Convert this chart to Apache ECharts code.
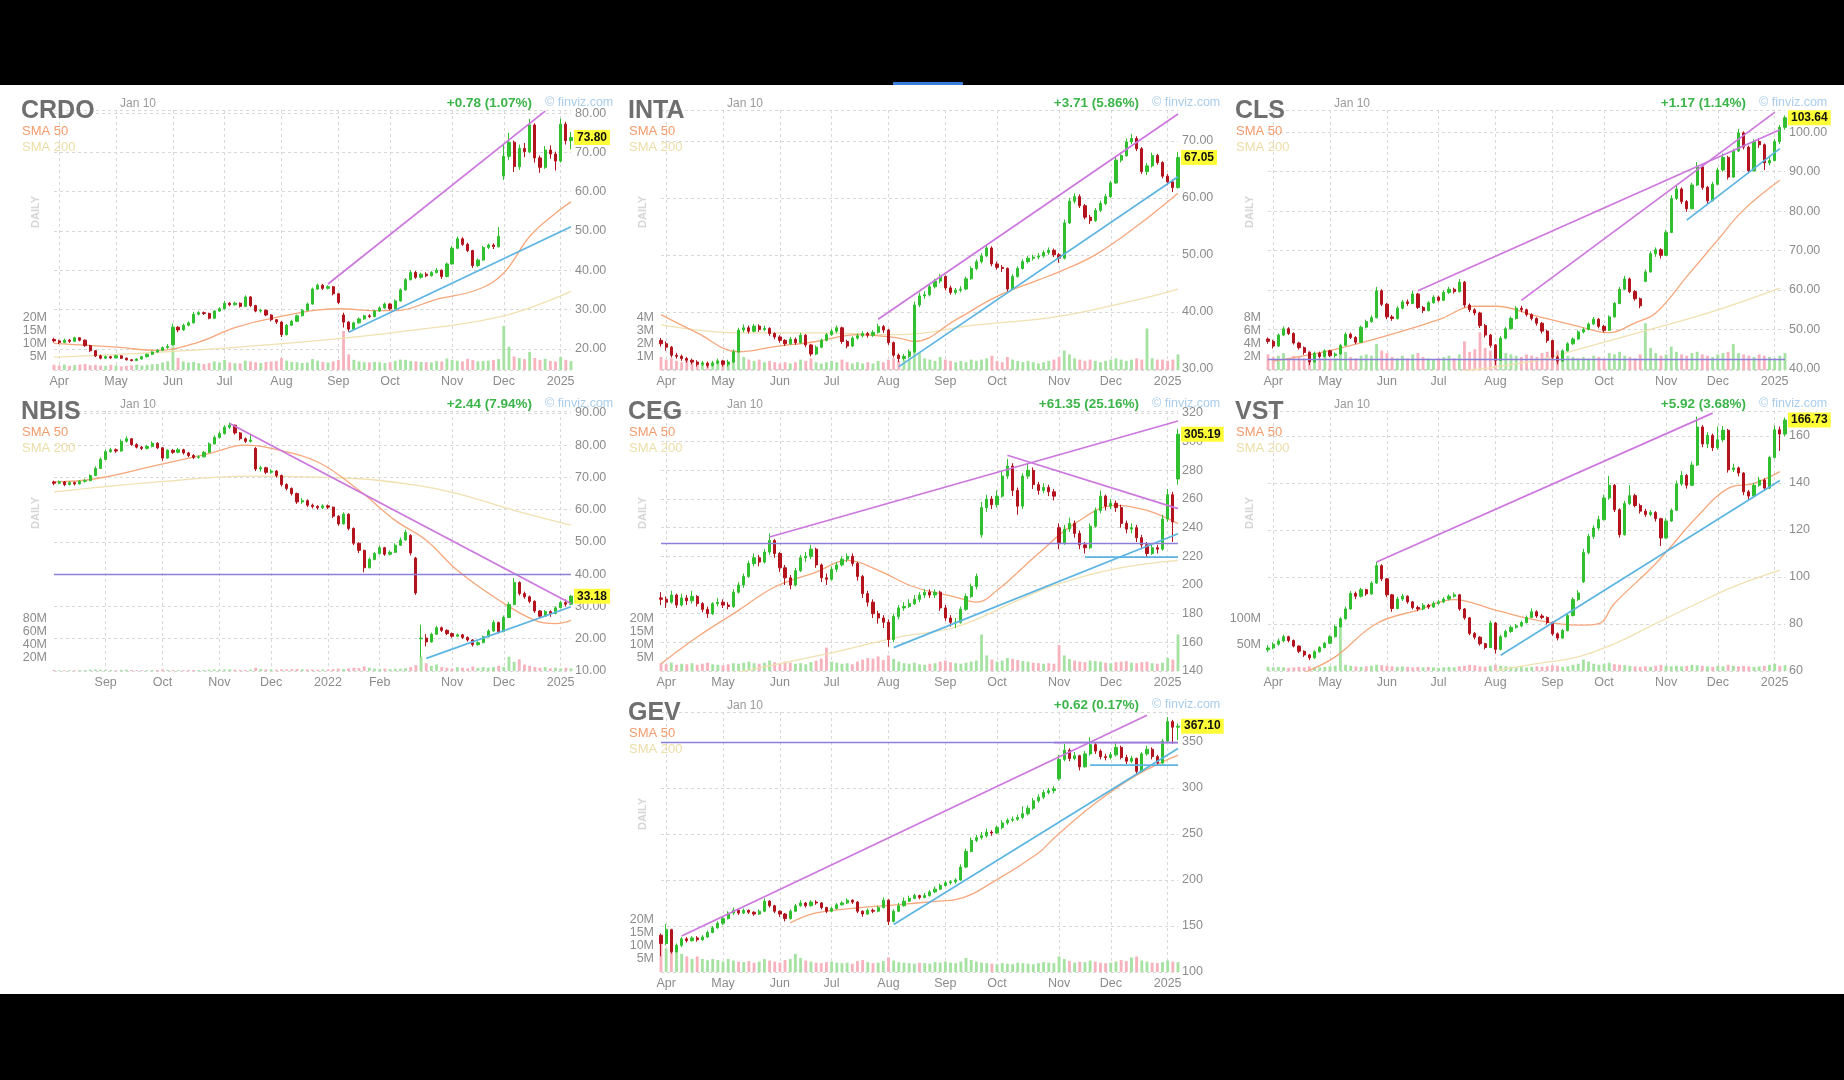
<!DOCTYPE html>
<html>
<head>
<meta charset="utf-8">
<script src="https://cdn.jsdelivr.net/npm/echarts@6/dist/echarts.min.js"></script>
<style>
html,body{margin:0;padding:0;background:#000;width:1844px;height:1080px;overflow:hidden;}
#paper{position:absolute;left:0;top:85px;width:1844px;height:909px;background:#fff;}
#tab{position:absolute;left:893px;top:82px;width:70px;height:3px;background:#3b7ddd;}
#chart{position:absolute;left:0;top:0;width:1844px;height:1080px;}
</style>
</head>
<body>
<div id="paper"></div>
<div id="tab"></div>
<div id="chart"></div>
<script>
// ---------- axis ticks ----------
const monthTicks = [1,12,23,33,44,55,65,77,87,98];
const monthNames = ['Apr','May','Jun','Jul','Aug','Sep','Oct','Nov','Dec','2025'];
const nbisTicks = [10,21,32,42,53,63,77,87,98];
const nbisNames = ['Sep','Oct','Nov','Dec','2022','Feb','Nov','Dec','2025'];

const tickers = ['CRDO','INTA','CLS','NBIS','CEG','VST','GEV'];
const changes = ['+0.78 (1.07%)','+3.71 (5.86%)','+1.17 (1.14%)','+2.44 (7.94%)','+61.35 (25.16%)','+5.92 (3.68%)','+0.62 (0.17%)'];

// ---------- CRDO [open, close, low, high] ----------
const crdoCandles = [[22.4,22.0,21.6,22.8],[22.0,21.6,21.2,22.3],[21.6,22.2,21.4,22.6],[22.2,21.9,21.5,22.5],[21.9,22.8,21.7,23.1],[22.8,22.2,21.9,23.0],[22.2,20.8,20.5,22.4],[20.8,19.5,19.2,21.0],[19.5,18.2,17.9,19.7],[18.2,17.6,17.3,18.5],
[17.6,18.0,17.4,18.3],[18.0,17.7,17.4,18.2],[17.7,18.2,17.5,18.5],[18.2,17.6,17.4,18.3],[17.6,17.2,17.0,17.8],[17.2,17.0,16.8,17.4],[17.0,17.4,16.9,17.6],[17.4,18.0,17.2,18.2],[18.0,18.6,17.8,18.8],[18.6,19.2,18.4,19.4],
[19.2,19.6,19.0,19.9],[19.6,20.3,19.4,20.6],[20.3,20.6,20.0,21.2],[21.0,25.5,20.8,26.4],[25.5,24.8,24.2,25.8],[24.8,26.0,24.6,26.4],[26.0,26.6,25.7,27.0],[26.6,28.8,26.4,29.4],[28.8,29.2,28.5,29.6],[29.2,29.0,28.6,29.5],
[29.0,27.8,27.5,29.2],[27.8,29.6,27.6,29.9],[29.6,30.2,29.4,30.6],[30.2,31.6,30.0,32.2],[31.6,31.2,30.8,31.9],[31.2,31.6,31.0,32.0],[31.6,30.8,30.5,31.8],[30.8,33.2,30.6,33.6],[33.2,31.0,30.6,33.4],[31.0,29.6,29.3,31.2],
[29.6,29.8,29.2,30.2],[29.8,28.6,28.3,30.0],[28.6,27.4,27.0,28.8],[27.4,26.8,26.3,27.6],[26.8,23.6,23.0,27.0],[23.6,26.0,23.4,26.3],[26.0,27.0,25.8,27.4],[27.0,28.4,26.8,28.7],[28.4,29.8,28.2,30.1],[29.8,31.4,29.6,31.8],
[31.4,35.2,31.2,35.6],[35.2,36.2,35.0,36.6],[36.2,35.4,35.0,36.5],[35.4,35.8,35.1,36.2],[35.8,34.0,33.6,36.0],[34.0,31.8,31.4,34.2],[28.6,26.8,25.4,29.2],[26.8,25.0,24.3,27.0],[25.0,26.6,24.8,26.9],[26.6,27.6,26.4,28.0],
[27.6,28.4,27.4,28.7],[28.4,28.2,27.8,28.8],[28.2,29.6,28.0,29.9],[29.6,30.4,29.4,30.8],[30.4,31.4,30.2,31.8],[31.4,30.2,29.8,31.6],[30.2,32.2,30.0,32.6],[32.2,35.0,32.0,35.4],[35.0,37.6,34.8,38.0],[37.6,39.4,37.4,40.0],
[39.4,38.2,37.8,39.8],[38.2,39.0,37.9,39.4],[39.0,38.6,38.2,39.5],[38.6,39.4,38.4,39.8],[39.4,40.0,39.2,40.6],[40.0,38.4,37.8,40.2],[38.4,41.6,38.2,42.0],[41.6,45.6,41.4,46.2],[45.6,48.0,45.4,48.6],[48.0,46.6,46.2,48.4],
[46.6,45.0,44.6,47.0],[45.0,41.2,40.6,45.2],[41.2,42.6,40.8,43.0],[42.6,45.8,42.4,46.2],[45.8,46.4,45.4,46.8],[46.4,46.0,45.4,46.9],[46.0,48.6,45.8,51.0],[64.0,69.0,63.0,72.0],[69.0,72.6,68.0,75.0],[72.6,66.4,65.0,73.0],
[66.4,71.0,65.6,72.0],[71.0,70.2,68.8,72.4],[70.2,77.0,69.8,78.6],[77.0,68.6,67.4,77.4],[68.6,66.2,64.8,69.2],[66.2,70.6,65.8,71.6],[70.6,69.6,68.4,71.8],[69.6,67.8,65.4,70.2],[67.8,77.2,67.4,78.6],[77.2,73.0,72.0,77.8],
[73.0,73.8,70.8,75.2]];
const crdoVolume = [2.0,1.7,2.1,1.6,1.9,2.1,2.3,1.8,2.0,1.7,1.6,2.0,1.7,1.4,1.6,1.8,2.1,1.7,2.0,2.2,2.3,2.9,3.3,9.0,4.6,3.3,2.9,3.1,2.6,2.3,2.7,3.3,2.9,3.9,2.9,2.6,2.5,3.6,3.3,3.0,2.7,3.1,3.3,3.4,4.6,3.6,3.1,3.0,2.7,2.9,4.2,3.6,3.1,2.9,3.3,3.9,15.0,6.0,3.9,3.3,3.0,2.9,3.1,3.0,2.7,3.0,3.5,4.0,3.9,3.4,3.3,3.1,3.0,2.9,3.4,3.3,4.4,3.9,3.6,3.3,4.3,3.8,3.3,3.4,3.6,3.9,4.2,17.0,9.0,5.2,4.6,4.2,7.0,4.6,3.9,4.3,3.5,3.3,5.0,3.9,3.4];
const crdoSma50 = [[0,21.4],[12,20.4],[20,19.6],[28,21.7],[35,25.4],[43,28.0],[55,30.2],[62,29.7],[66,29.7],[74,32.6],[82,35.1],[87,39.3],[92,48.6],[97,54.5],[100,57.4]];
const crdoSma200 = [[0,17.9],[20,19.1],[43,21.2],[66,24.2],[87,28.4],[100,34.6]];
const crdoPurple = [[[53,36.5],[95,80.5]]];
const crdoBlue = [[[57,24.2],[100,51.1]]];
const crdoLevels = [];

// ---------- INTA ----------
const intaCandles = [[35.0,34.4,33.9,35.4],[34.4,33.8,33.2,34.8],[33.8,32.4,32.0,34.0],[32.4,32.2,31.8,32.8],[32.2,31.8,31.4,32.5],[31.8,31.5,31.1,32.1],[31.5,31.2,30.8,31.8],[31.2,30.8,30.4,31.5],[30.8,31.0,30.5,31.4],[31.0,30.6,30.2,31.3],
[30.6,31.0,30.4,31.4],[31.0,31.4,30.8,31.8],[31.4,30.8,30.4,31.6],[30.8,31.2,30.4,31.6],[31.2,33.0,31.0,33.4],[33.0,36.8,32.8,37.2],[36.8,37.2,36.4,37.8],[37.2,36.6,36.2,37.6],[36.6,37.5,36.4,37.9],[37.5,36.9,36.5,37.8],
[36.9,37.1,36.6,37.6],[37.1,36.2,35.8,37.3],[36.2,35.6,35.2,36.4],[35.6,35.0,34.6,35.9],[35.0,34.4,34.0,35.2],[34.4,35.2,34.2,35.6],[35.2,34.6,34.2,35.5],[34.6,35.9,34.4,36.3],[35.9,34.2,33.8,36.1],[34.2,32.6,32.2,34.4],
[32.6,33.8,32.4,34.1],[33.8,35.0,33.6,35.3],[35.0,36.0,34.8,36.3],[36.0,36.6,35.8,37.0],[36.6,37.2,36.3,37.6],[37.2,34.8,34.4,37.4],[34.8,34.0,33.6,35.1],[34.0,35.4,33.8,35.7],[35.4,35.8,35.1,36.2],[35.8,36.2,35.5,36.6],
[36.2,35.9,35.5,36.5],[35.9,36.4,35.6,36.8],[36.4,37.4,36.2,37.9],[37.4,36.8,36.3,37.7],[36.8,34.6,34.2,37.0],[34.6,32.4,32.0,34.8],[32.4,31.8,31.2,32.7],[31.8,32.2,31.5,32.6],[32.2,33.0,31.9,33.4],[33.0,41.2,32.8,41.8],
[41.2,42.8,40.8,43.4],[42.8,43.0,42.3,43.6],[43.0,44.4,42.7,44.8],[44.4,45.4,44.1,45.8],[45.4,46.2,45.0,46.6],[46.2,44.2,43.8,46.4],[44.2,43.4,43.0,44.6],[43.4,43.8,43.0,44.2],[43.8,44.0,43.4,44.5],[44.0,45.8,43.8,46.2],
[45.8,47.6,45.6,48.0],[47.6,48.8,47.3,49.2],[48.8,49.8,48.5,50.3],[49.8,51.2,49.6,51.8],[51.2,48.4,48.0,51.5],[48.4,47.8,47.4,48.8],[47.8,47.6,47.0,48.2],[47.6,44.0,43.6,47.8],[44.0,46.2,43.8,46.6],[46.2,47.6,46.0,48.0],
[47.6,48.8,47.4,49.2],[48.8,49.4,48.5,49.8],[49.4,49.6,49.0,50.0],[49.6,49.8,49.2,50.3],[49.8,50.4,49.5,50.8],[50.4,50.8,50.0,51.3],[50.8,50.0,49.6,51.1],[50.0,49.4,48.6,50.3],[49.4,55.6,49.2,56.2],[55.6,59.4,55.4,60.0],
[59.4,60.2,59.0,60.8],[60.2,58.6,58.2,60.6],[58.6,56.6,56.2,58.9],[56.6,56.0,55.4,57.0],[56.0,57.8,55.8,58.2],[57.8,59.0,57.5,59.5],[59.0,60.2,58.7,60.7],[60.2,62.6,60.0,63.0],[62.6,66.6,62.4,67.2],[66.6,67.4,66.2,68.0],
[67.4,69.8,67.2,70.4],[69.8,70.4,69.4,71.2],[70.4,68.6,68.2,70.8],[68.6,64.6,64.2,68.9],[64.6,65.6,64.0,66.1],[65.6,67.4,65.3,67.9],[67.4,66.2,65.8,67.7],[66.2,63.8,63.4,66.4],[63.8,62.8,62.2,64.2],[62.8,61.8,61.0,63.2],
[61.8,67.05,61.6,68.0]];
const intaVolume = [1.0,0.8,0.9,0.7,0.6,0.7,0.6,0.5,0.6,0.5,0.6,0.7,0.5,0.6,0.9,1.4,1.0,0.8,0.7,0.8,0.6,0.7,0.6,0.5,0.6,0.5,0.6,0.8,0.7,0.9,0.6,0.5,0.6,0.7,0.6,0.8,0.6,0.5,0.6,0.5,0.6,0.5,0.7,0.6,0.8,0.9,0.7,0.8,0.9,2.0,1.3,0.9,0.8,0.7,1.0,0.8,0.7,0.6,0.7,0.6,0.8,0.7,0.8,0.9,1.1,0.7,0.6,1.0,0.8,0.7,0.6,0.7,0.6,0.5,0.6,0.7,0.8,1.0,1.5,1.2,0.9,0.8,0.7,0.8,0.7,0.6,0.7,0.8,0.9,0.8,0.7,0.8,0.9,0.8,3.2,0.9,0.8,0.8,0.7,0.8,1.2];
const intaSma50 = [[0,39.5],[7,36.3],[15,33.0],[22,33.9],[30,34.8],[38,36.0],[46,35.4],[49,34.8],[57,38.6],[65,42.7],[73,45.6],[77,47.0],[84,50.0],[92,55.0],[100,60.8]];
const intaSma200 = [[0,37.7],[15,36.3],[30,36.3],[46,36.0],[61,37.7],[77,39.2],[92,42.1],[100,44.0]];
const intaPurple = [[[42,38.7],[100,74.7]]];
const intaBlue = [[[46,30.4],[100,63.7]]];
const intaLevels = [];

// ---------- CLS ----------
const clsCandles = [[47.6,47.0,46.4,48.0],[47.0,45.8,45.2,47.4],[45.8,48.6,45.6,49.0],[48.6,50.2,48.3,50.8],[50.2,49.0,48.6,50.6],[49.0,46.6,46.2,49.3],[46.6,45.4,44.9,46.9],[45.4,44.2,43.6,45.7],[44.2,41.8,41.0,44.4],[41.8,44.0,41.6,44.4],
[44.0,43.2,42.7,44.4],[43.2,44.6,42.9,45.0],[44.6,43.4,43.0,44.9],[43.4,43.8,42.9,44.2],[43.8,46.0,43.6,46.4],[46.0,48.8,45.8,49.3],[48.8,48.0,47.6,49.2],[48.0,46.8,46.3,48.3],[46.8,50.6,46.6,51.0],[50.6,52.0,50.3,52.5],
[52.0,53.0,51.7,53.6],[53.0,59.8,52.8,60.8],[59.8,56.4,55.9,60.2],[56.4,53.2,52.6,56.7],[53.2,52.8,52.2,53.7],[52.8,55.4,52.5,55.9],[55.4,57.0,55.1,57.5],[57.0,56.6,56.0,57.6],[56.6,59.0,56.4,59.8],[59.0,55.6,55.2,59.3],
[55.6,54.8,54.2,56.0],[54.8,56.8,54.6,57.2],[56.8,58.2,56.5,58.7],[58.2,57.4,57.0,58.6],[57.4,59.4,57.2,59.9],[59.4,60.2,59.0,60.8],[60.2,59.6,59.1,60.6],[59.6,62.0,59.4,62.8],[62.0,56.2,55.6,62.3],[56.2,55.0,54.4,56.6],
[55.0,54.2,53.6,55.4],[54.2,51.0,50.4,54.5],[51.0,48.6,48.0,51.4],[48.6,46.0,45.4,48.9],[46.0,42.2,41.0,46.3],[42.2,47.8,42.0,48.3],[47.8,50.2,47.5,50.7],[50.2,52.8,50.0,53.3],[52.8,55.4,52.5,55.9],[55.4,55.0,54.4,56.0],
[55.0,53.8,53.3,55.3],[53.8,52.8,52.3,54.1],[52.8,51.6,51.0,53.1],[51.6,49.6,49.0,51.9],[49.6,47.2,46.6,49.9],[47.2,43.0,42.2,47.4],[43.0,42.0,41.2,43.5],[42.0,44.6,41.8,45.0],[44.6,46.4,44.4,46.8],[46.4,47.6,46.1,48.0],
[47.6,49.4,47.4,49.8],[49.4,50.0,49.0,50.5],[50.0,51.4,49.8,51.8],[51.4,52.6,51.1,53.2],[52.6,50.8,50.3,52.9],[50.8,49.8,49.3,51.2],[49.8,53.2,49.6,53.6],[53.2,56.6,53.0,57.0],[56.6,60.2,56.4,60.8],[60.2,62.8,60.0,63.6],
[62.8,59.6,59.2,63.2],[59.6,57.8,57.3,60.0],[57.8,56.0,55.4,58.1],[62.2,64.6,62.0,65.2],[64.6,69.2,64.4,69.8],[69.2,70.2,68.4,70.8],[70.2,68.8,68.0,70.6],[68.8,74.6,68.6,75.2],[74.6,83.2,74.4,84.0],[83.2,85.6,82.8,86.6],
[85.6,82.4,81.8,86.0],[82.4,80.6,79.8,82.8],[80.6,86.6,80.4,87.2],[86.6,91.2,86.3,92.4],[91.2,86.0,85.4,91.6],[86.0,82.6,81.6,86.4],[82.6,86.8,82.4,87.4],[86.8,90.4,86.5,91.0],[90.4,93.6,90.0,94.6],[93.6,88.6,88.0,94.0],
[88.6,95.2,88.4,95.8],[95.2,99.8,95.0,100.8],[99.8,96.2,95.6,100.2],[96.2,90.2,89.6,96.6],[90.2,97.6,90.0,98.2],[97.6,96.8,96.0,98.4],[96.8,92.2,90.4,97.1],[92.2,92.8,91.6,94.0],[92.8,97.6,92.6,98.2],[97.6,101.2,97.0,101.8],
[101.2,103.64,100.6,104.2]];
const clsVolume = [2.4,2.0,2.2,2.6,1.8,2.2,2.0,1.8,3.0,2.2,1.8,2.0,1.6,1.8,2.4,2.8,2.0,1.8,2.2,2.4,2.2,4.0,3.0,2.6,2.0,1.8,2.2,1.8,2.4,2.6,2.0,1.8,1.6,1.8,2.0,2.2,1.8,2.4,4.4,2.8,3.2,5.8,3.4,3.0,4.0,3.2,2.6,2.4,2.2,2.0,2.4,2.2,2.0,2.6,2.8,3.6,3.0,2.4,2.2,2.0,1.8,2.0,1.8,2.2,2.0,1.8,2.6,2.4,2.8,2.2,2.0,1.8,2.4,7.2,3.4,2.6,2.2,2.4,3.6,2.8,2.4,2.2,2.6,2.8,2.4,2.2,2.0,2.4,2.6,2.8,4.0,2.6,2.4,2.2,2.0,2.4,2.2,2.0,1.8,2.2,2.6];
const clsSma50 = [[1,42.0],[13,45.0],[25,49.2],[33,52.5],[40,55.9],[44,55.9],[52,53.4],[60,50.8],[66,49.2],[71,51.7],[75,54.2],[81,63.4],[87,72.7],[92,80.3],[99,87.8]];
const clsSma200 = [[0,36.5],[30,38.5],[52,42.2],[60,45.0],[75,50.4],[87,55.0],[99,60.5]];
const clsPurple = [[[29,59.8],[99,100.6]],[[49,57.4],[98,105.0]]];
const clsBlue = [[[81,77.7],[99,95.8]]];
const clsLevels = [42.4];

// ---------- NBIS ----------
const nbisCandles = [[68.6,68.2,67.6,69.0],[68.2,68.6,67.9,69.1],[68.6,67.8,67.3,68.9],[67.8,68.4,67.5,68.8],[68.4,68.0,67.5,68.7],[68.0,68.8,67.8,69.2],[68.8,69.0,68.4,69.6],[69.0,70.6,68.8,71.0],[70.6,72.8,70.4,73.4],[72.8,75.6,72.6,76.2],
[75.6,78.0,75.4,78.6],[78.0,78.6,77.6,79.2],[78.6,78.2,77.6,79.0],[78.2,81.2,78.0,81.8],[81.2,82.0,80.8,82.8],[82.0,80.2,79.8,82.2],[80.2,79.4,79.0,80.6],[79.4,79.0,78.5,79.8],[79.0,79.6,78.7,80.1],[79.6,80.6,79.3,81.2],
[80.6,79.2,78.8,80.9],[79.2,76.0,75.2,79.4],[76.0,78.4,75.8,78.8],[78.4,77.8,77.3,78.8],[77.8,78.6,77.5,79.2],[78.6,77.6,77.1,78.9],[77.6,76.8,76.3,77.9],[76.8,76.2,75.7,77.2],[76.2,76.4,75.8,76.9],[76.4,77.8,76.2,78.2],
[77.8,80.4,77.6,80.9],[80.4,82.4,80.2,83.0],[82.4,83.6,82.0,84.2],[83.6,85.6,83.3,86.2],[85.6,86.2,85.0,87.0],[86.2,83.8,83.3,86.4],[83.8,82.0,81.5,84.1],[82.0,81.2,80.7,82.4],[81.2,81.6,80.8,83.2],[79.0,72.6,72.0,79.4],
[72.6,73.0,71.8,73.6],[73.0,71.6,71.0,73.3],[71.6,72.0,71.2,72.6],[72.0,70.6,70.0,72.3],[70.6,67.8,67.2,70.9],[67.8,66.6,66.0,68.2],[66.6,65.0,64.4,66.9],[65.0,62.4,61.8,65.3],[62.4,62.8,61.8,63.6],[62.8,61.4,60.8,63.2],
[61.4,61.0,60.4,61.9],[61.0,60.6,60.0,61.4],[60.6,61.2,60.2,61.7],[61.2,60.8,60.2,61.6],[60.8,58.0,57.4,61.0],[58.0,55.6,55.0,58.3],[55.6,58.6,55.4,59.2],[58.6,54.2,53.6,58.9],[54.2,49.6,49.0,54.5],[49.6,47.4,46.6,49.9],
[47.4,42.0,40.6,47.6],[42.0,44.6,41.8,45.2],[44.6,46.4,44.3,46.9],[46.4,48.2,46.1,48.8],[48.2,46.2,45.7,48.5],[46.2,46.8,45.8,47.4],[46.8,49.0,46.6,49.6],[49.0,50.6,48.8,51.4],[50.6,53.0,50.4,53.8],[52.0,46.6,45.8,52.4],
[45.0,34.2,33.6,45.4],[20.0,20.2,14.2,24.4],[20.2,19.0,17.6,21.4],[19.0,21.4,18.8,21.9],[21.4,23.4,21.2,24.0],[23.4,22.6,22.1,23.8],[22.6,21.6,21.1,22.9],[21.6,20.8,20.3,21.9],[20.8,21.2,20.5,21.6],[21.2,20.4,19.9,21.5],
[20.4,19.6,19.1,20.7],[19.6,18.2,17.6,19.9],[18.2,18.8,17.8,19.2],[18.8,20.6,18.6,21.0],[20.6,22.4,20.4,22.9],[22.4,25.0,22.2,25.8],[25.0,22.2,21.6,25.3],[22.2,26.6,22.0,27.2],[26.6,30.6,26.4,31.4],[30.6,37.4,30.4,38.8],
[37.4,34.0,33.4,37.8],[34.0,33.0,32.4,34.6],[33.0,31.6,31.0,33.4],[31.6,28.6,28.0,31.9],[28.6,27.0,26.4,28.9],[27.0,28.4,26.8,28.9],[28.4,27.8,26.8,28.8],[27.8,29.6,27.6,30.0],[29.6,31.2,29.4,31.8],[31.2,30.7,30.0,32.2],
[30.7,33.18,30.5,33.6]];
const nbisVolume = [1.5,1.2,1.0,1.2,1.1,1.3,1.4,2.0,2.2,1.8,1.6,1.4,1.2,1.8,2.0,1.6,1.4,1.2,1.3,1.5,1.4,2.4,1.6,1.4,1.3,1.2,1.4,1.5,1.3,1.6,2.0,2.2,1.8,2.4,2.6,2.0,1.8,1.6,2.2,5.0,3.0,2.4,2.2,2.0,2.6,2.4,2.8,3.2,2.6,2.4,2.2,2.0,2.4,2.2,3.0,3.6,3.0,4.0,5.0,4.4,7.0,5.0,3.6,3.2,3.8,3.0,3.4,3.6,4.2,6.0,9.0,
22.0,12.0,8.0,10.0,6.0,5.0,4.0,6.0,5.0,4.0,7.0,5.0,6.0,5.0,6.0,8.0,6.0,22.0,14.0,18.0,10.0,8.0,6.0,5.0,6.0,4.0,5.0,4.0,5.0,4.0];
const nbisSma50 = [[0,68.6],[8,69.6],[20,73.8],[30,77.4],[37,80.0],[42,79.0],[51,74.8],[59,66.0],[66,56.7],[72,50.5],[78,41.2],[86,32.0],[93,25.7],[97,24.7],[100,25.7]];
const nbisSma200 = [[0,65.5],[20,68.6],[38,70.4],[59,69.6],[70,67.6],[78,65.0],[89,59.8],[100,55.2]];
const nbisPurple = [[[34,86.7],[100,30.9]]];
const nbisBlue = [[[72,13.9],[100,29.9]]];
const nbisLevels = [40];

// ---------- CEG ----------
const cegCandles = [[191,190,186,195],[190,188,184,192],[188,193,187,196],[193,186,184,194],[186,191,185,194],[191,189,186,193],[189,192,187,196],[192,187,185,193],[187,183,181,188],[183,180,177,185],
[180,187,179,188],[187,188,185,191],[188,186,184,190],[186,185,183,188],[185,195,184,197],[195,200,194,202],[200,206,198,208],[206,215,205,217],[215,219,213,222],[219,216,213,221],
[216,223,215,225],[223,231,221,236],[231,222,219,232],[222,212,209,223],[212,205,200,214],[205,200,197,207],[200,210,199,212],[210,219,209,221],[219,220,216,223],[220,225,218,228],
[225,214,212,226],[214,205,202,215],[205,204,200,208],[204,211,203,213],[211,214,209,216],[214,218,213,220],[218,220,216,222],[220,215,213,222],[215,206,203,216],[206,194,191,207],
[194,188,185,196],[188,180,177,190],[180,177,173,182],[177,174,170,179],[174,162,157,176],[162,178,160,180],[178,184,176,186],[184,185,182,188],[185,187,184,190],[187,190,186,193],
[190,193,188,195],[193,195,191,197],[195,193,191,197],[193,195,191,197],[195,184,182,196],[184,177,175,186],[177,174,171,179],[174,174,170,177],[174,183,173,185],[183,192,182,194],
[192,199,191,201],[199,206,197,208],[235,254,233,258],[254,260,251,263],[260,256,253,262],[256,262,254,266],[262,276,261,280],[276,283,274,288],[283,266,262,285],[266,255,249,268],
[255,276,253,278],[276,280,274,285],[280,270,267,282],[270,266,263,272],[266,268,264,271],[268,265,262,270],[265,262,259,267],[240,229,225,243],[229,239,228,242],[239,243,237,247],
[243,236,233,245],[236,228,225,238],[228,226,222,230],[226,241,225,243],[241,252,240,254],[252,262,250,266],[262,255,252,263],[255,257,253,260],[257,254,251,259],[254,243,240,256],
[243,239,236,245],[239,240,236,243],[240,233,230,242],[233,228,225,235],[228,222,219,230],[222,226,221,229],[226,225,222,228],[225,246,224,249],[246,263,244,267],[263,244,230,265],
[274,305.19,270,309]];
const cegVolume = [3.0,2.6,3.2,2.4,2.8,2.6,3.0,2.4,2.8,3.2,2.6,2.4,2.2,2.6,3.0,2.8,3.2,3.6,3.0,2.8,3.2,4.0,3.4,3.0,3.6,3.2,2.8,3.0,2.6,3.4,4.0,4.8,9.0,3.6,3.2,2.8,3.0,2.6,3.6,4.4,5.0,4.8,5.6,4.2,6.0,4.6,3.6,3.0,2.8,3.2,2.6,2.4,2.8,3.0,3.6,4.0,3.4,3.0,2.8,3.2,3.6,4.0,14.0,6.0,4.4,3.6,4.0,5.0,4.6,4.2,3.8,3.6,3.2,3.0,2.8,3.0,2.8,10.0,6.0,4.6,4.0,3.6,3.4,4.0,3.8,3.6,3.2,3.0,3.4,3.6,3.8,3.2,3.0,3.4,3.6,3.0,2.8,3.2,5.0,4.4,14.0];
const cegSma50 = [[0,145],[7,163.7],[15,182.3],[22,198.6],[30,209],[36,217.2],[42,210.2],[49,198.6],[57,191.6],[61,188],[65,196.3],[73,221.9],[80,242.8],[88,255.6],[94,252],[100,242.8]];
const cegSma200 = [[0,128],[32,152],[46,163.7],[57,170.7],[69,189.3],[76,199.8],[88,211.4],[100,217.2]];
const cegPurple = [[[21,233.5],[100,314.4]],[[67,290.5],[100,253.3]]];
const cegBlue = [[[45,156.3],[100,235.8]],[[82,219.5],[100,219.5]]];
const cegLevels = [229.3];

// ---------- VST ----------
const vstCandles = [[69,69.8,68,71],[69.8,71.4,69.2,72.2],[71.4,72.8,70.8,73.8],[72.8,74.6,72.2,75.4],[74.6,73.0,72.2,75.0],[73.0,70.6,70.0,73.4],[70.6,68.4,67.6,71.0],[68.4,66.8,66.0,68.8],[66.8,65.6,64.6,67.2],[65.6,68.2,65.2,68.8],
[68.2,70.0,67.8,70.6],[70.0,71.8,69.6,72.4],[71.8,74.6,71.4,75.2],[74.6,78.8,74.2,79.6],[78.8,82.2,78.4,83.0],[82.2,86.4,81.8,87.4],[86.4,93.0,86.0,94.0],[93.0,91.8,90.6,93.8],[91.8,94.6,91.2,95.4],[94.6,92.8,92.0,95.0],
[92.8,97.4,92.4,98.2],[97.4,104.8,97.0,106.4],[104.8,99.2,98.2,105.4],[99.2,92.4,91.4,99.6],[92.4,86.6,85.2,92.8],[86.6,90.6,86.2,91.6],[90.6,91.8,89.8,92.8],[91.8,89.4,88.6,92.2],[89.4,87.0,86.2,89.8],[87.0,86.4,85.4,87.8],
[86.4,88.0,85.8,88.8],[88.0,87.2,86.4,88.6],[87.2,88.8,86.8,89.6],[88.8,89.4,88.2,90.2],[89.4,90.6,88.8,91.4],[90.6,91.8,90.0,92.6],[91.8,92.4,91.2,93.4],[92.4,86.4,85.6,92.8],[86.4,82.6,81.8,86.8],[82.6,76.0,75.2,83.0],
[76.0,74.4,73.4,76.6],[74.4,71.6,70.8,74.8],[71.6,70.0,69.2,72.0],[70.0,80.4,69.8,81.4],[80.4,69.2,67.4,80.8],[69.2,74.6,68.8,75.4],[74.6,76.8,74.2,77.6],[76.8,78.6,76.2,79.4],[78.6,79.2,78.0,80.0],[79.2,80.6,78.6,81.4],
[80.6,82.8,80.2,83.6],[82.8,85.2,82.4,86.6],[85.2,83.4,82.6,85.8],[83.4,82.8,82.0,84.2],[82.8,80.6,79.8,83.2],[80.6,75.8,75.0,81.0],[75.8,74.0,73.0,76.4],[74.0,77.2,73.6,77.8],[77.2,83.6,76.8,84.4],[83.6,90.4,83.2,91.4],
[90.4,93.2,89.8,94.4],[98,110.4,97.4,112],[110.4,117.2,109.6,118.4],[117.2,120.8,116.2,122],[120.8,124.4,119.8,126],[124.4,133.6,124,135],[133.6,139.0,132.8,143],[139.0,128.6,127.6,139.6],[128.6,118.0,116.8,129.2],[118.0,131.2,117.6,132.4],
[131.2,134.6,130.6,139],[134.6,130.4,129.6,135.4],[130.4,128.0,127.0,131.2],[128.0,126.6,125.6,129.0],[126.6,127.4,125.8,128.4],[127.4,124.8,123.6,128.0],[124.8,116.6,113.2,125.2],[116.6,123.8,116.2,125.0],[123.8,128.4,123.4,129.2],[128.4,139.6,128.0,141],
[139.6,143.2,138.8,145],[143.2,139.0,137.6,143.8],[139.0,147.6,138.6,149],[147.6,163.8,147.2,168.2],[163.8,156.6,155.2,164.6],[156.6,160.2,154.8,161.6],[160.2,155.0,153.6,161.0],[155.0,158.4,154.2,164.0],[158.4,162.4,157.4,164.2],[162.4,145.6,144.4,163.0],
[145.6,146.4,144.6,148.2],[146.4,144.2,142.8,147.0],[144.2,136.2,134.8,144.6],[136.2,134.4,132.6,137.0],[134.4,139.0,133.8,140.0],[139.0,141.2,138.4,142.6],[141.2,137.8,136.6,142.0],[137.8,150.8,137.4,151.6],[150.8,162.6,150.4,164.4],[162.6,160.8,153.6,164.0],
[160.8,166.73,159.8,167.8]];
const vstVolume = [8,7,8,7,6,7,8,7,9,8,7,8,9,10,85,12,10,9,8,9,10,12,11,10,9,8,9,8,7,8,7,8,7,6,7,8,7,9,10,12,11,9,8,10,12,10,9,8,7,8,7,8,9,8,9,11,10,8,9,12,14,22,18,14,12,14,16,13,12,11,10,9,8,9,8,10,12,10,9,10,9,10,12,11,10,9,8,10,9,12,10,9,10,9,8,9,10,12,14,10,11];
const vstSma50 = [[4,57],[8,60.3],[13,66],[21,80.2],[29,85.9],[36,90.4],[44,85.9],[52,81.6],[60,79.5],[64,80.2],[67,88.7],[75,105.7],[83,125.6],[89,137.7],[94,139.8],[99,144.8]];
const vstSma200 = [[44,60.3],[52,63.1],[60,66],[67,71.6],[75,80.2],[83,88.7],[90,95.8],[99,102.9]];
const vstPurple = [[[21,106.4],[86,169.7]]];
const vstBlue = [[[45,66.7],[99,141]]];
const vstLevels = [];

// ---------- GEV ----------
const gevCandles = [[140,131,117,142],[131,146,129,152],[146,122,120,147],[122,129,121,131],[129,136,127,138],[136,134,132,138],[134,137,133,139],[137,135,133,139],[135,138,134,140],[138,143,137,145],
[143,148,142,150],[148,153,147,155],[153,158,151,160],[158,164,157,166],[164,167,162,170],[167,164,162,169],[164,167,163,169],[167,165,163,168],[165,163,161,166],[163,166,162,168],
[166,177,165,180],[177,172,170,178],[172,166,164,173],[166,163,160,167],[163,158,155,164],[158,166,157,168],[166,172,165,174],[172,175,171,178],[175,172,170,176],[172,176,171,178],
[176,175,173,178],[175,170,168,176],[170,166,164,171],[166,169,165,171],[169,173,168,175],[173,175,172,177],[175,178,174,180],[178,176,174,179],[176,166,164,177],[166,163,160,167],
[163,167,162,169],[167,166,164,169],[166,170,165,172],[170,178,169,181],[178,155,151,179],[155,166,154,168],[166,172,165,175],[172,177,171,181],[177,180,176,183],[180,183,179,185],
[183,181,179,184],[181,183,180,186],[183,187,182,189],[187,190,186,193],[190,194,189,196],[194,197,193,199],[197,198,195,200],[198,200,196,202],[200,214,199,217],[214,231,213,234],
[231,243,230,246],[243,246,241,249],[246,248,244,252],[248,252,246,256],[252,251,248,254],[251,257,250,259],[257,262,255,265],[262,265,260,267],[265,266,263,269],[266,268,264,271],
[268,272,266,280],[272,278,270,281],[278,286,276,289],[286,290,284,293],[290,295,288,298],[295,297,293,300],[297,299,294,302],[310,331,308,336],[331,341,329,348],[341,332,329,343],
[332,335,330,339],[335,323,319,336],[323,337,322,340],[337,347,335,355],[347,340,337,349],[340,334,331,342],[334,333,330,337],[333,336,331,339],[336,344,334,350],[344,333,331,346],
[333,329,326,336],[329,332,327,335],[332,318,314,333],[318,337,317,339],[337,342,335,346],[342,334,331,344],[334,327,324,336],[327,351,326,353],[351,372,349,377],[372,366,348,374],
[366,367.1,352,370]];
const gevVolume = [11,9,10,8,7,6,5,6,5,4.5,5,4.6,4,5,4.4,4,3.8,4.2,3.6,4,5,4.4,4,3.6,4.6,5,7,5.4,4.4,4,3.6,3.4,3.8,4,3.6,3.4,3.6,3.2,4.2,4.6,3.8,3.4,3.6,4.2,5.6,4.4,3.8,3.6,3.4,3.2,3.6,3.4,3.2,3.8,3.6,4,3.6,3.4,4,5.4,4.6,4,3.6,3.4,3.2,3,3.4,3.2,3,3.6,3.4,3.2,3,3.4,3.8,3.6,3.4,6,5,4.2,3.6,4,3.8,4.4,4,3.6,3.4,3.6,4,4.6,4.2,5.6,6,4.4,4,3.6,3.4,3.8,4.4,4,3.8];
const gevSma50 = [[25,153.4],[30,164.2],[38,169.6],[46,173.2],[53,176.8],[57,178.6],[65,200.3],[73,229.2],[76,245.4],[84,283.3],[92,313.9],[100,335.6]];
const gevSma200 = [];
const gevPurple = [[[4,139],[94,378.9]],[[76,349.3],[100,349.3]]];
const gevBlue = [[[45,151.6],[100,342.8]],[[83,324.7],[100,324.7]]];
const gevLevels = [349.3];

// ---------- layout / style ----------
const COLS = [54, 661, 1268];
const ROWS_B = [370, 671, 972];
const PW = 517, PH = 260, VH = 57.2;
const FONT = "'Liberation Sans', Arial, sans-serif";
const UP = '#2fbf2f', DOWN = '#b3131c', VUP = '#a6e2a2', VDOWN = '#f6b3bd';
const C_SMA50 = '#f6a77c', C_SMA200 = '#f1e0b0', C_PURPLE = '#cc77dd', C_BLUE = '#5cb4e2', C_LEVEL = '#8a80dc';

const panels = [
  {candles:crdoCandles, vol:crdoVolume, sma50:crdoSma50, sma200:crdoSma200, purple:crdoPurple, blue:crdoBlue, levels:crdoLevels, ticks:monthTicks, names:monthNames, col:0, row:0, yMin:14.6, yMax:80.8, yStep:10, dec:2, volMax:22, volStep:5},
  {candles:intaCandles, vol:intaVolume, sma50:intaSma50, sma200:intaSma200, purple:intaPurple, blue:intaBlue, levels:intaLevels, ticks:monthTicks, names:monthNames, col:1, row:0, yMin:29.8, yMax:75.4, yStep:10, dec:2, volMax:4.4, volStep:1},
  {candles:clsCandles, vol:clsVolume, sma50:clsSma50, sma200:clsSma200, purple:clsPurple, blue:clsBlue, levels:clsLevels, ticks:monthTicks, names:monthNames, col:2, row:0, yMin:39.75, yMax:105.6, yStep:10, dec:2, volMax:8.8, volStep:2},
  {candles:nbisCandles, vol:nbisVolume, sma50:nbisSma50, sma200:nbisSma200, purple:nbisPurple, blue:nbisBlue, levels:nbisLevels, ticks:nbisTicks, names:nbisNames, col:0, row:1, yMin:10, yMax:90.6, yStep:10, dec:2, volMax:88, volStep:20},
  {candles:cegCandles, vol:cegVolume, sma50:cegSma50, sma200:cegSma200, purple:cegPurple, blue:cegBlue, levels:cegLevels, ticks:monthTicks, names:monthNames, col:1, row:1, yMin:140, yMax:321.4, yStep:20, dec:0, volMax:22, volStep:5},
  {candles:vstCandles, vol:vstVolume, sma50:vstSma50, sma200:vstSma200, purple:vstPurple, blue:vstBlue, levels:vstLevels, ticks:monthTicks, names:monthNames, col:2, row:1, yMin:60, yMax:170.6, yStep:20, dec:0, volMax:110, volStep:50},
  {candles:gevCandles, vol:gevVolume, sma50:gevSma50, sma200:gevSma200, purple:gevPurple, blue:gevBlue, levels:gevLevels, ticks:monthTicks, names:monthNames, col:1, row:2, yMin:100, yMax:382.5, yStep:50, dec:0, volMax:22, volStep:5}
];

const grid = [], xAxis = [], yAxis = [], series = [], graphic = [];
function txt(x, y, text, font, fill, align, rot) {
  return {type:'text', x:x, y:y, rotation: rot || 0, z: 50, silent: true,
    style:{text:text, font:font, fill:fill, align: align || 'left', verticalAlign:'middle', textAlign: align || 'left', textVerticalAlign:'middle'}};
}
function tag(x, y, text) {
  return {type:'text', x:x, y:y, z: 60, silent: true,
    style:{text:text, font:'bold 12px ' + FONT, fill:'#111', backgroundColor:'#ffff38', padding:[2,3,1,3],
      align:'left', verticalAlign:'middle', textAlign:'left', textVerticalAlign:'middle'}};
}

panels.forEach(function (p, k) {
  const L = COLS[p.col], B = ROWS_B[p.row], T = B - PH;
  const cats = p.candles.map(function (_, i) { return String(i); });
  const tickLabel = {};
  p.ticks.forEach(function (t, j) { tickLabel[t] = p.names[j]; });
  const isTick = function (i) { return tickLabel[i] !== undefined; };
  const gi = grid.length;
  grid.push({left:L, top:T, width:PW, height:PH});
  grid.push({left:L, top:B - VH, width:PW, height:VH});

  xAxis.push({gridIndex:gi, type:'category', data:cats, boundaryGap:false,
    axisLine:{show:false}, axisTick:{show:false},
    axisLabel:{interval:function (i) { return isTick(i); }, formatter:function (v, i) { return tickLabel[i] || ''; },
      color:'#8c8c8c', fontSize:12.5, fontFamily:FONT, margin:5},
    splitLine:{show:true, interval:function (i) { return isTick(i); }, lineStyle:{color:'#d8d8d8', type:[3,3], width:1}}});
  xAxis.push({gridIndex:gi + 1, type:'category', data:cats, boundaryGap:false, show:false});

  yAxis.push({gridIndex:gi, type:'value', position:'right', min:p.yMin, max:p.yMax,
    minInterval:p.yStep, maxInterval:p.yStep,
    axisLine:{show:false}, axisTick:{show:false},
    axisLabel:{formatter:function (v) { return v.toFixed(p.dec === 0 ? 0 : 2); }, color:'#8c8c8c', fontSize:12.5, fontFamily:FONT, margin:4,
      showMinLabel: (p.yMin % p.yStep === 0), showMaxLabel:false},
    splitLine:{show:true, lineStyle:{color:'#d8d8d8', type:[3,3], width:1}}});
  yAxis.push({gridIndex:gi + 1, type:'value', position:'left', min:0, max:p.volMax,
    minInterval:p.volStep, maxInterval:p.volStep,
    axisLine:{show:false}, axisTick:{show:false}, splitLine:{show:false},
    axisLabel:{formatter:function (v) { return v + 'M'; }, color:'#8c8c8c', fontSize:12.5, fontFamily:FONT, margin:7,
      showMinLabel:false, showMaxLabel:false}});

  // volume
  series.push({type:'bar', xAxisIndex:gi + 1, yAxisIndex:gi + 1, barWidth:'55%', silent:true, z:1,
    data:p.vol.map(function (v, i) {
      const c = p.candles[i];
      return {value:v, itemStyle:{color: (c && c[1] < c[0]) ? VDOWN : VUP}};
    })});
  // SMAs
  if (p.sma200.length) series.push({type:'line', xAxisIndex:gi, yAxisIndex:gi, data:p.sma200, smooth:0.4, symbol:'none', silent:true, z:2,
    lineStyle:{color:C_SMA200, width:1.3}});
  series.push({type:'line', xAxisIndex:gi, yAxisIndex:gi, data:p.sma50, smooth:0.4, symbol:'none', silent:true, z:2,
    lineStyle:{color:C_SMA50, width:1.3}});

  // candles + level lines
  const mlData = p.levels.map(function (v) {
    return {yAxis:v, lineStyle:{color:C_LEVEL, width:1.3, type:'solid'}, label:{show:false}};
  });
  const cs = {type:'candlestick', xAxisIndex:gi, yAxisIndex:gi, data:p.candles, barWidth:'52%', silent:true, z:3,
    itemStyle:{color:UP, color0:DOWN, borderColor:UP, borderColor0:DOWN, borderWidth:1}};
  if (mlData.length) cs.markLine = {silent:true, symbol:['none','none'], animation:false, data:mlData};
  series.push(cs);

  // trend lines
  p.purple.forEach(function (seg) {
    series.push({type:'line', xAxisIndex:gi, yAxisIndex:gi, data:seg, symbol:'none', silent:true, z:4,
      lineStyle:{color:C_PURPLE, width:1.7}});
  });
  p.blue.forEach(function (seg) {
    series.push({type:'line', xAxisIndex:gi, yAxisIndex:gi, data:seg, symbol:'none', silent:true, z:4,
      lineStyle:{color:C_BLUE, width:1.7}});
  });

  // texts
  graphic.push(txt(L - 33, T + 1, tickers[k], 'bold 25px ' + FONT, '#6f6f6f'));
  graphic.push(txt(L + 66, T - 6, 'Jan 10', '12px ' + FONT, '#9a9a9a'));
  graphic.push(txt(L - 32, T + 21, 'SMA 50', '13px ' + FONT, '#f39b6c'));
  graphic.push(txt(L - 32, T + 37, 'SMA 200', '13px ' + FONT, '#ecdda6'));
  graphic.push(txt(L - 18, T + 102, 'DAILY', 'bold 11px ' + FONT, '#d6d6d6', 'center', Math.PI / 2));
  graphic.push(txt(L + 478, T - 7, changes[k], 'bold 13.5px ' + FONT, '#3bb449', 'right'));
  graphic.push(txt(L + 491, T - 7, '\u00A9 finviz.com', '12.5px ' + FONT, '#a9cdec'));
});

const chart = echarts.init(document.getElementById('chart'), null, {renderer:'canvas'});
chart.setOption({
  backgroundColor:'transparent',
  animation:false,
  grid:grid, xAxis:xAxis, yAxis:yAxis, series:series
});

// price tags placed at the last close through the chart's own y scale
const tags = [];
panels.forEach(function (p, k) {
  const last = p.candles[p.candles.length - 1][1];
  const pt = chart.convertToPixel({xAxisIndex:2 * k, yAxisIndex:2 * k}, [p.candles.length - 1, last]);
  tags.push(tag(COLS[p.col] + PW + 3, pt[1], last.toFixed(2)));
});
chart.setOption({graphic:{elements:graphic.concat(tags)}});
</script>
</body>
</html>
